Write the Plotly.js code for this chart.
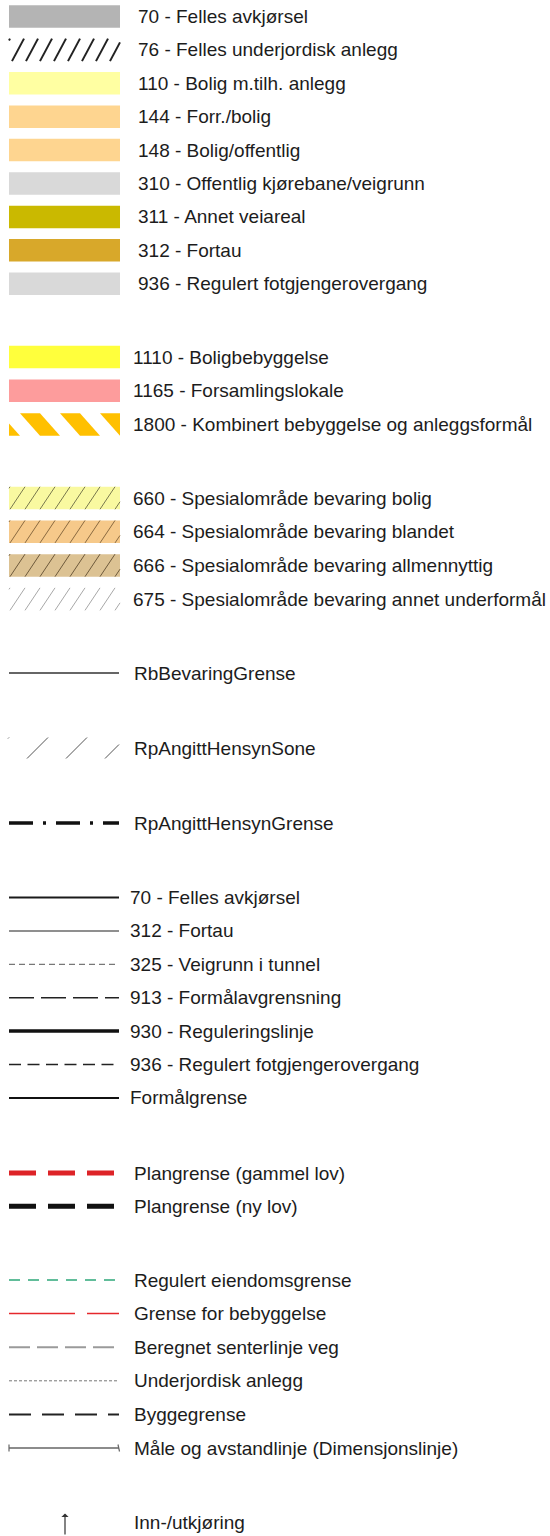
<!DOCTYPE html>
<html>
<head>
<meta charset="utf-8">
<script src="https://cdn.plot.ly/plotly-3.0.1.min.js"></script>
<style>
html,body{margin:0;padding:0;background:#ffffff;}
#chart{width:550px;height:1536px;}
</style>
</head>
<body>
<div id="chart"></div>
<script>
// ---------------- DATA (legend categories) ----------------
const areaLabels = [
  "70 - Felles avkjørsel",
  "76 - Felles underjordisk anlegg",
  "110 - Bolig m.tilh. anlegg",
  "144 - Forr./bolig",
  "148 - Bolig/offentlig",
  "310 - Offentlig kjørebane/veigrunn",
  "311 - Annet veiareal",
  "312 - Fortau",
  "936 - Regulert fotgjengerovergang"
];
const zoneLabels = [
  "1110 - Boligbebyggelse",
  "1165 - Forsamlingslokale",
  "1800 - Kombinert bebyggelse og anleggsformål"
];
const specialLabels = [
  "660 - Spesialområde bevaring bolig",
  "664 - Spesialområde bevaring blandet",
  "666 - Spesialområde bevaring allmennyttig",
  "675 - Spesialområde bevaring annet underformål"
];
const boundaryLabels = [
  "RbBevaringGrense",
  "RpAngittHensynSone",
  "RpAngittHensynGrense"
];
const lineLabels = [
  "70 - Felles avkjørsel",
  "312 - Fortau",
  "325 - Veigrunn i tunnel",
  "913 - Formålavgrensning",
  "930 - Reguleringslinje",
  "936 - Regulert fotgjengerovergang",
  "Formålgrense"
];
const planLabels = [
  "Plangrense (gammel lov)",
  "Plangrense (ny lov)"
];
const otherLabels = [
  "Regulert eiendomsgrense",
  "Grense for bebyggelse",
  "Beregnet senterlinje veg",
  "Underjordisk anlegg",
  "Byggegrense",
  "Måle og avstandlinje (Dimensjonslinje)"
];
const symbolLabels = ["Inn-/utkjøring"];

// ---------------- STYLES ----------------
const areaStyles = [
  {fill:"#b4b4b4"},
  {fill:null, hatch:{color:"#222222", width:2, period:14, shift:12, phase:12}},
  {fill:"#ffffa2"},
  {fill:"#fed590"},
  {fill:"#fed590"},
  {fill:"#d9d9d9"},
  {fill:"#cab900"},
  {fill:"#d8a82a"},
  {fill:"#d9d9d9"}
];
const zoneStyles = [
  {fill:"#ffff3c"},
  {fill:"#fd9c9c"},
  {fill:null, stripes:{color:"#ffc000", period:40, width:20, shift:20, phase:20}}
];
const specialStyles = [
  {fill:"#f9f9a0", hatch:{color:"#7a7a50", width:1, period:15, shift:15, phase:10}},
  {fill:"#f6c98a", hatch:{color:"#8a6a40", width:1, period:15, shift:15, phase:10}},
  {fill:"#dcc293", hatch:{color:"#6e5a3c", width:1, period:15, shift:15, phase:10}},
  {fill:null,      hatch:{color:"#a8a8a8", width:1, period:15, shift:15, phase:10}}
];
const boundaryStyles = [
  {color:"#333333", width:1.5, dash:"solid"},
  {strokes:{color:"#555555", width:1, period:39, shift:21, phase:27, half:10.5}},
  {color:"#111111", width:3.5, dash:"24px,10px,3px,10px"}
];
const lineStyles = [
  {color:"#1a1a1a", width:2, dash:"solid"},
  {color:"#6a6a6a", width:1.5, dash:"solid"},
  {color:"#555555", width:1, dash:"6px,4px"},
  {color:"#222222", width:1.5, dash:"25px,7px"},
  {color:"#111111", width:3.5, dash:"solid"},
  {color:"#222222", width:1.5, dash:"12px,6.5px"},
  {color:"#111111", width:2, dash:"solid"}
];
const planStyles = [
  {color:"#dd2327", width:5, dash:"27px,12px"},
  {color:"#111111", width:5, dash:"27px,12px"}
];
const otherStyles = [
  {color:"#2ea87a", width:1.5, dash:"11px,8px"},
  {color:"#e5282c", width:1.5, dash:"66px,12px"},
  {color:"#9a9a9a", width:2, dash:"21px,7px"},
  {color:"#777777", width:1, dash:"3px,2px"},
  {color:"#222222", width:2, dash:"22px,11px"},
  {color:"#666666", width:1.5, dash:"solid", ticks:3.5}
];

// ---------------- LAYOUT CONSTANTS ----------------
const SW_X0 = 9, SW_X1 = 120, SW_H = 22.5;
const LN_X0 = 9, LN_X1 = 119;
const FONT = {family:"Liberation Sans, Arial, Helvetica, sans-serif", size:19, color:"#1c1c1c"};

const groups = [
  {labels:areaLabels,     styles:areaStyles,     kind:"area", y0:16.5, step:33.4, textX:136},
  {labels:zoneLabels,     styles:zoneStyles,     kind:"area", y0:357,  step:33.8, textX:131},
  {labels:specialLabels,  styles:specialStyles,  kind:"area", y0:498,  step:33.7, textX:130.5},
  {labels:boundaryLabels, styles:boundaryStyles, kind:"line", y0:673,  step:75,   textX:131.5},
  {labels:lineLabels,     styles:lineStyles,     kind:"line", y0:897.5,step:33.4, textX:128},
  {labels:planLabels,     styles:planStyles,     kind:"line", y0:1173, step:33.3, textX:131.5},
  {labels:otherLabels,    styles:otherStyles,    kind:"line", y0:1280, step:33.6, textX:131.5},
  {labels:symbolLabels,   styles:[{arrow:true}], kind:"symbol", y0:1522, step:0, textX:131.5}
];

// ---------------- HELPERS ----------------
function hatchLines(x0, x1, yTop, yBot, h) {
  const xs = [], ys = [];
  let b = h.phase;
  while (b > x0 - h.shift) b -= h.period;
  for (; b < x1; b += h.period) {
    const tlo = Math.max(0, (x0 - b) / h.shift);
    const thi = Math.min(1, (x1 - b) / h.shift);
    if (tlo >= thi) continue;
    xs.push(b + h.shift * tlo, b + h.shift * thi, null);
    ys.push(yBot - (yBot - yTop) * tlo, yBot - (yBot - yTop) * thi, null);
  }
  return {xs, ys};
}
function clipEdge(pts, keep, xb) {
  const out = [];
  for (let i = 0; i < pts.length; i++) {
    const p = pts[i], q = pts[(i + 1) % pts.length];
    const pin = keep(p[0]), qin = keep(q[0]);
    if (pin) out.push(p);
    if (pin !== qin) {
      const t = (xb - p[0]) / (q[0] - p[0]);
      out.push([xb, p[1] + t * (q[1] - p[1])]);
    }
  }
  return out;
}
function stripePaths(x0, x1, yTop, yBot, s) {
  const paths = [];
  let a = s.phase;
  while (a > x0 - s.shift - s.width) a -= s.period;
  for (; a < x1; a += s.period) {
    let poly = [[a, yTop], [a + s.width, yTop], [a + s.width + s.shift, yBot], [a + s.shift, yBot]];
    poly = clipEdge(poly, x => x >= x0, x0);
    poly = clipEdge(poly, x => x <= x1, x1);
    if (poly.length < 3) continue;
    paths.push("M" + poly.map(p => p[0].toFixed(2) + "," + p[1].toFixed(2)).join("L") + "Z");
  }
  return paths;
}

// ---------------- BUILD ----------------
const traces = [], shapes = [], annotations = [];

groups.forEach(g => {
  g.labels.forEach((label, i) => {
    const y = g.y0 + g.step * i;
    const st = g.styles[i];
    annotations.push({
      x: g.textX, y: y, xref:"x", yref:"y", text: label, showarrow:false,
      xanchor:"left", yanchor:"middle", font: FONT
    });
    if (g.kind === "area") {
      const yTop = y - SW_H / 2, yBot = y + SW_H / 2;
      if (st.fill) {
        shapes.push({type:"rect", xref:"x", yref:"y", x0:SW_X0, x1:SW_X1, y0:yTop, y1:yBot,
          fillcolor:st.fill, line:{width:0}, layer:"below"});
      }
      if (st.hatch) {
        const hl = hatchLines(SW_X0, SW_X1, yTop, yBot, st.hatch);
        traces.push({type:"scatter", mode:"lines", x:hl.xs, y:hl.ys, hoverinfo:"skip",
          line:{color:st.hatch.color, width:st.hatch.width}});
      }
      if (st.stripes) {
        stripePaths(SW_X0, SW_X1, yTop, yBot, st.stripes).forEach(p => {
          shapes.push({type:"path", xref:"x", yref:"y", path:p, fillcolor:st.stripes.color,
            line:{width:0}, layer:"below"});
        });
      }
    } else if (g.kind === "line") {
      if (st.strokes) {
        const hl = hatchLines(LN_X0 - 1, LN_X1, y - st.strokes.half, y + st.strokes.half, st.strokes);
        traces.push({type:"scatter", mode:"lines", x:hl.xs, y:hl.ys, hoverinfo:"skip",
          line:{color:st.strokes.color, width:st.strokes.width}});
      } else {
        traces.push({type:"scatter", mode:"lines", x:[LN_X0, LN_X1], y:[y, y], hoverinfo:"skip",
          line:{color:st.color, width:st.width, dash:st.dash}});
        if (st.ticks) {
          traces.push({type:"scatter", mode:"lines", hoverinfo:"skip",
            x:[LN_X0, LN_X0, null, LN_X1 - 1, LN_X1 + 0.5],
            y:[y - st.ticks, y + st.ticks, null, y - st.ticks, y + st.ticks],
            line:{color:st.color, width:1.2}});
        }
      }
    } else if (g.kind === "symbol") {
      annotations.push({
        x: 65, y: y - 8.5, ax: 65, ay: y + 14, xref:"x", yref:"y", axref:"x", ayref:"y",
        text:"", showarrow:true, arrowhead:1, arrowsize:1, arrowwidth:1.2, arrowcolor:"#333333"
      });
    }
  });
});

const layout = {
  width:550, height:1536,
  margin:{l:0, r:0, t:0, b:0, pad:0},
  paper_bgcolor:"#ffffff", plot_bgcolor:"#ffffff",
  showlegend:false,
  xaxis:{range:[0,550], visible:false, fixedrange:true},
  yaxis:{range:[1536,0], visible:false, fixedrange:true},
  shapes: shapes,
  annotations: annotations
};

Plotly.newPlot("chart", traces, layout, {displayModeBar:false, staticPlot:true});
</script>
</body>
</html>
